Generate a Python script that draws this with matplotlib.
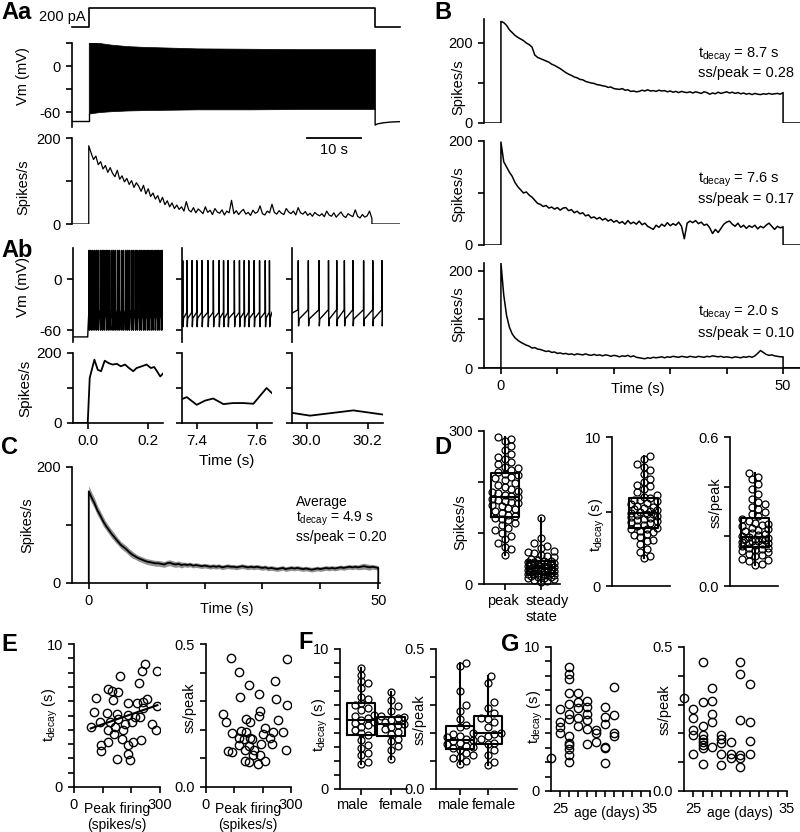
import numpy as np
import matplotlib
matplotlib.use("Agg")
import matplotlib.pyplot as plt

plt.rcParams.update({
    "font.family": ["Liberation Sans", "DejaVu Sans"],
    "font.size": 10.5,
    "mathtext.fontset": "custom",
    "mathtext.rm": "Liberation Sans",
    "mathtext.it": "Liberation Sans:italic",
    "mathtext.bf": "Liberation Sans:bold",
    "axes.linewidth": 1.2,
    "axes.facecolor": "none",
    "xtick.major.size": 4.5,
    "ytick.major.size": 4.5,
    "xtick.major.width": 1.2,
    "ytick.major.width": 1.2,
    "xtick.labelsize": 10.5,
    "ytick.labelsize": 10.5,
    "lines.linewidth": 1.1,
})

# ---------------- data ----------------
# Aa: current step (pA), Vm envelope (mV), firing rate (spikes/s)
aa_step_t = [-3.1, 0, 0, 53, 53, 57.6]
aa_step_pa = [0, 0, 200, 200, 0, 0]
aa_rest = -72
aa_env_t = [0, 1, 2, 4, 7, 10, 15, 20, 30, 40, 53]
aa_env_hi = [35, 31, 30, 28, 26, 25, 24, 23, 22.5, 22, 22]
aa_env_lo = [-62, -61, -60, -59, -58, -57.5, -57, -56.5, -56.5, -56, -56]
aa_post_t = [53, 53.4, 54.5, 56, 57.6]
aa_post_mv = [-77, -75.5, -74, -73, -72.5]
aa_rate_end = 52.4
aa_rate = [182, 165, 150, 158, 138, 145, 128, 136, 120, 131,
           118, 110, 125, 104, 112, 98, 106, 92, 101, 85,
           96, 88, 76, 90, 70, 82, 64, 72, 58, 66,
           50, 62, 45, 54, 40, 49, 36, 44, 34, 40,
           30, 52, 33, 28, 38, 26, 35, 30, 24, 40,
           27, 32, 22, 36, 28, 25, 33, 21, 30, 26,
           55, 24, 31, 22, 29, 34, 23, 27, 20, 32,
           25, 28, 42, 24, 21, 30, 26, 46, 27, 23,
           31, 25, 22, 36, 28, 24, 30, 21, 38, 26,
           23, 29, 20, 25, 18, 27, 22, 19, 24, 17,
           30, 21, 18, 26, 16, 22, 28, 19, 15, 24,
           20, 17, 33, 18, 14, 22, 16, 19, 30, 13]

# Ab: spike times (s) in three windows, and binned rates
ab1_spikes = [0.004, 0.010, 0.016, 0.022, 0.028, 0.034, 0.041, 0.047, 0.053, 0.060,
              0.066, 0.072, 0.079, 0.085, 0.091, 0.098, 0.104, 0.111, 0.117, 0.124,
              0.130, 0.136, 0.143, 0.149, 0.156, 0.162, 0.169, 0.175, 0.182, 0.188,
              0.195, 0.201, 0.208, 0.214, 0.221, 0.228, 0.234, 0.241, 0.247]
ab2_spikes = [7.353, 7.367, 7.384, 7.400, 7.417, 7.437, 7.455, 7.474, 7.489, 7.504,
              7.525, 7.542, 7.558, 7.573, 7.591, 7.609, 7.628, 7.642]
ab3_spikes = [29.972, 30.005, 30.040, 30.071, 30.098, 30.123, 30.151, 30.186, 30.216, 30.246]
ab1_rate_t = [-0.05, 0.0, 0.0066, 0.022, 0.033, 0.044, 0.056, 0.069, 0.082, 0.096, 0.109,
              0.123, 0.136, 0.150, 0.161, 0.178, 0.194, 0.208, 0.219, 0.228, 0.239, 0.250]
ab1_rate = [0, 0, 129, 181, 152, 148, 178, 171, 167, 169, 162,
            167, 157, 148, 157, 162, 167, 157, 160, 148, 133, 143]
ab2_rate_t = [7.353, 7.367, 7.400, 7.428, 7.455, 7.489, 7.522, 7.555, 7.589, 7.633, 7.650]
ab2_rate = [69, 74, 52, 64, 70, 54, 57, 57, 55, 100, 86]
ab3_rate_t = [29.952, 30.011, 30.153, 30.251]
ab3_rate = [29, 21, 36, 24]

# B: three example cells, rate sampled every 0.5 s over the 50 s step
b1_rate = [254, 251, 244, 233, 226, 219, 214, 210, 206, 200,
           196, 190, 170, 164, 161, 158, 155, 152, 147, 144,
           140, 136, 131, 126, 122, 119, 115, 113, 109, 108,
           104, 102, 100, 99, 96, 95, 93, 92, 89, 90,
           86, 85, 84, 86, 82, 83, 79, 80, 78, 79,
           82, 80, 83, 80, 81, 79, 82, 80, 81, 78,
           80, 77, 79, 76, 79, 77, 76, 78, 75, 78,
           76, 74, 78, 76, 72, 75, 73, 77, 74, 76,
           78, 75, 77, 74, 76, 73, 75, 72, 74, 71,
           74, 72, 71, 73, 72, 74, 72, 73, 74, 72, 76]
b2_rate = [198, 160, 150, 140, 132, 120, 112, 106, 100, 102,
           96, 92, 86, 80, 78, 74, 76, 71, 73, 69,
           72, 67, 71, 72, 66, 68, 62, 65, 60, 62,
           56, 58, 52, 54, 50, 53, 48, 51, 46, 49,
           44, 47, 42, 45, 40, 47, 41, 44, 40, 46,
           39, 42, 36, 33, 30, 38, 34, 40, 36, 43,
           37, 41, 38, 44, 36, 12, 42, 46, 43, 47,
           41, 44, 38, 40, 33, 22, 30, 24, 32, 40,
           44, 46, 40, 36, 42, 34, 38, 32, 37, 34,
           38, 31, 36, 33, 38, 42, 36, 30, 36, 33, 35]
b3_rate = [216, 150, 108, 84, 70, 62, 57, 53, 50, 47,
           45, 41, 42, 39, 38, 36, 34, 35, 32, 33,
           30, 31, 29, 30, 28, 29, 27, 29, 28, 27,
           29, 27, 26, 28, 26, 27, 25, 27, 26, 24,
           26, 25, 23, 25, 24, 26, 23, 25, 22, 21,
           20, 19, 21, 20, 22, 21, 22, 23, 21, 23,
           22, 24, 23, 22, 24, 23, 22, 24, 23, 22,
           24, 23, 22, 24, 23, 25, 24, 23, 24, 22,
           23, 22, 21, 23, 22, 21, 23, 22, 24, 22,
           25, 30, 36, 32, 28, 26, 27, 25, 24, 23, 23]
b_notes = [("8.7", "0.28"), ("7.6", "0.17"), ("2.0", "0.10")]

# C: average rate and SEM, every 0.5 s
c_mean = [158, 147, 137, 125, 116, 106, 98, 91, 84, 78,
          72, 66, 62, 58, 53, 49, 46, 43, 41, 39,
          37, 36, 35, 34, 34, 33, 32, 34, 35, 33,
          32, 33, 31, 32, 31, 32, 30, 31, 30, 29,
          30, 29, 28, 29, 28, 29, 27, 28, 29, 28,
          28, 27, 28, 29, 28, 27, 28, 27, 28, 27,
          26, 27, 25, 26, 25, 24, 25, 26, 24, 25,
          26, 25, 26, 25, 24, 25, 24, 23, 24, 25,
          24, 25, 26, 25, 26, 25, 26, 27, 26, 27,
          28, 27, 28, 27, 28, 29, 28, 27, 28, 27, 26]
c_sem = [10, 9, 9, 8, 8, 8, 7, 7, 7, 7,
         6, 6, 6, 6, 6, 6, 5, 5, 5, 5,
         5, 5, 5, 5, 5, 5, 5, 5, 5, 5,
         5, 5, 5, 4, 4, 4, 4, 4, 4, 4,
         4, 4, 4, 4, 4, 4, 4, 4, 4, 4,
         4, 4, 4, 4, 4, 4, 4, 4, 4, 4,
         4, 4, 4, 4, 4, 4, 4, 4, 4, 4,
         4, 4, 4, 4, 4, 4, 4, 4, 4, 4,
         4, 4, 4, 4, 4, 4, 4, 4, 4, 4,
         4, 4, 4, 4, 5, 5, 5, 5, 4, 4, 4]

# D: population summary
d_peak = [57, 68, 72, 80, 88, 95, 100, 105, 110, 115, 120, 125, 128, 130, 133, 136,
          140, 143, 147, 150, 152, 155, 158, 160, 163, 165, 167, 170, 172, 175, 178,
          180, 183, 186, 190, 195, 198, 203, 207, 210, 213, 216, 220, 224, 227, 230,
          235, 240, 245, 250, 255, 262, 270, 280, 285, 288]
d_steady = [4, 6, 8, 10, 11, 12, 13, 14, 15, 16, 17, 18, 19, 20, 20, 21, 22, 23, 24,
            25, 26, 27, 27, 28, 29, 30, 30, 31, 32, 33, 34, 35, 36, 37, 38, 39, 40,
            41, 42, 43, 44, 45, 46, 48, 50, 52, 55, 57, 60, 62, 65, 70, 75, 80, 90, 129]
d_tdecay = [1.9, 2.0, 2.3, 2.5, 2.8, 3.0, 3.1, 3.3, 3.4, 3.5, 3.6, 3.7, 3.8, 3.85,
            3.9, 4.0, 4.1, 4.2, 4.3, 4.35, 4.4, 4.5, 4.55, 4.6, 4.7, 4.75, 4.8, 4.85,
            4.9, 5.0, 5.05, 5.1, 5.2, 5.25, 5.3, 5.4, 5.5, 5.6, 5.7, 5.75, 5.8, 5.9,
            6.0, 6.1, 6.3, 6.5, 6.7, 6.8, 7.0, 7.2, 7.5, 7.8, 8.0, 8.2, 8.5, 8.7]
d_sspeak = [0.085, 0.09, 0.10, 0.105, 0.11, 0.12, 0.125, 0.13, 0.135, 0.14, 0.145,
            0.15, 0.152, 0.155, 0.16, 0.165, 0.17, 0.172, 0.175, 0.178, 0.18, 0.183,
            0.186, 0.188, 0.19, 0.19, 0.193, 0.196, 0.2, 0.205, 0.21, 0.215, 0.22,
            0.225, 0.23, 0.235, 0.24, 0.245, 0.25, 0.255, 0.26, 0.27, 0.28, 0.29,
            0.3, 0.31, 0.32, 0.33, 0.34, 0.35, 0.37, 0.39, 0.41, 0.43, 0.44, 0.455]

# E: correlations with peak firing
e1_peak = [58, 69, 78, 89, 95, 95, 115, 119, 118, 118, 125, 135, 133, 138, 144, 150,
           150, 152, 153, 159, 167, 171, 179, 187, 188, 190, 187, 196, 205, 202, 213,
           219, 227, 233, 231, 237, 240, 242, 248, 254, 271, 286, 291, 288]
e1_tdecay = [4.21, 5.26, 6.19, 4.56, 2.92, 2.50, 5.14, 3.15, 3.97, 6.82, 4.56, 6.07,
             6.73, 3.74, 4.21, 5.07, 1.99, 6.66, 4.79, 7.76, 3.39, 3.97, 4.44, 2.34,
             5.84, 5.02, 2.97, 1.87, 3.15, 4.56, 4.91, 5.84, 7.24, 3.27, 4.91, 8.11,
             5.49, 5.96, 8.60, 6.12, 4.44, 3.97, 5.65, 8.11]
e2_peak = [87, 115, 150, 286, 244, 120, 187, 247, 286, 190, 188, 59, 71, 140, 154,
           253, 93, 124, 142, 209, 200, 238, 272, 115, 135, 162, 227, 232, 195, 118,
           150, 76, 92, 138, 168, 165, 191, 283, 138, 150, 185, 209, 156]
e2_sspeak = [0.450, 0.403, 0.357, 0.447, 0.371, 0.313, 0.326, 0.308, 0.287, 0.266,
             0.247, 0.255, 0.227, 0.238, 0.229, 0.236, 0.188, 0.197, 0.191, 0.206,
             0.185, 0.192, 0.194, 0.171, 0.167, 0.167, 0.171, 0.152, 0.151, 0.148,
             0.144, 0.127, 0.121, 0.130, 0.130, 0.113, 0.112, 0.130, 0.090, 0.087,
             0.081, 0.090, 0.171]

# F: by sex
f_tdecay_male = [1.77, 1.96, 2.43, 2.55, 2.91, 3.15, 3.5, 3.87, 3.99, 4.22, 4.46, 4.58,
                 4.7, 4.82, 4.94, 5.1, 5.18, 5.3, 5.66, 5.8, 6.0, 6.13, 6.42, 6.6, 7.2,
                 7.57, 7.68, 8.16, 8.64]
f_tdecay_female = [2.12, 2.8, 3.1, 3.4, 3.58, 3.9, 4.1, 4.3, 4.45, 4.58, 4.65, 4.8,
                   4.95, 5.1, 5.13, 5.25, 5.6, 5.9, 6.35, 6.9]
f_ss_male = [0.09, 0.1, 0.11, 0.115, 0.12, 0.13, 0.14, 0.145, 0.15, 0.155, 0.16, 0.165,
             0.17, 0.175, 0.18, 0.185, 0.19, 0.195, 0.2, 0.22, 0.23, 0.25, 0.28, 0.3,
             0.35, 0.44, 0.45]
f_ss_female = [0.084, 0.095, 0.12, 0.14, 0.16, 0.165, 0.18, 0.19, 0.196, 0.2, 0.22,
               0.24, 0.25, 0.255, 0.27, 0.29, 0.31, 0.38, 0.402]
sex_labels = ["male", "female"]

# G: by age
g1_age = [24, 25, 25, 25, 25, 26, 26, 26, 26, 26, 26, 26, 26, 26, 26, 26, 26, 26,
          27, 27, 27, 27, 27, 28, 28, 28, 28, 28, 28, 29, 29, 29, 30, 30, 30, 30, 30,
          30, 31, 31, 31, 31]
g1_tdecay = [2.26, 5.66, 4.80, 4.41, 4.04, 8.61, 8.15, 7.81, 6.81, 6.07, 5.38, 4.99,
             3.83, 3.35, 3.19, 2.89, 2.49, 1.99, 6.81, 6.19, 5.73, 5.08, 4.50, 6.24,
             5.80, 5.38, 4.92, 4.34, 3.23, 4.23, 4.04, 3.42, 5.80, 5.15, 4.64, 3.07,
             2.96, 1.92, 7.23, 5.27, 4.00, 3.81]
g2_age = [24, 25, 25, 25, 25, 25, 26, 26, 26, 26, 26, 26, 26, 26, 26, 27, 27, 27, 27,
          27, 28, 28, 28, 28, 28, 29, 29, 29, 30, 30, 30, 30, 30, 30, 31, 31, 31, 31]
g2_sspeak = [0.324, 0.286, 0.255, 0.211, 0.194, 0.130, 0.448, 0.309, 0.226, 0.194,
             0.182, 0.171, 0.159, 0.148, 0.094, 0.356, 0.312, 0.267, 0.240, 0.154,
             0.194, 0.182, 0.165, 0.130, 0.090, 0.171, 0.130, 0.115, 0.448, 0.405,
             0.248, 0.125, 0.113, 0.084, 0.371, 0.238, 0.174, 0.130]

TDEC = r"t$_{\mathrm{decay}}$"

# ---------------- layout helpers (pixel boxes on an 800x832 canvas) ----------------
W, H = 800, 832
fig = plt.figure(figsize=(W / 100, H / 100), dpi=100)


def add_ax(x0, y0, x1, y1, bottom=True):
    ax = fig.add_axes([x0 / W, 1 - y1 / H, (x1 - x0) / W, (y1 - y0) / H])
    ax.spines["top"].set_visible(False)
    ax.spines["right"].set_visible(False)
    if not bottom:
        ax.spines["bottom"].set_visible(False)
        ax.set_xticks([])
    return ax


def ftext(px, py, s, **kw):
    kw.setdefault("ha", "center")
    kw.setdefault("va", "center")
    fig.text(px / W, 1 - py / H, s, **kw)


def panel(px, py, s):
    fig.text(px / W, 1 - py / H, s, ha="left", va="top", fontsize=17, fontweight="bold")


def ylab(px, py, s, size=10.5):
    ftext(px, py, s, rotation=90, fontsize=size)


def yticks(ax, ticks, labels):
    ax.set_yticks(ticks)
    ax.set_yticklabels(labels)


def px_scale(ax):
    bb = ax.get_position()
    x0, x1 = ax.get_xlim()
    y0, y1 = ax.get_ylim()
    return bb.width * W / (x1 - x0), bb.height * H / (y1 - y0)


def swarm_offsets(vals, py_per_unit, diam=6.5, max_half=13.0):
    ys = np.asarray(vals, float) * py_per_unit
    cand = [0.0]
    k = 1
    while k * diam / 2 <= max_half:
        cand += [k * diam / 2, -k * diam / 2]
        k += 1
    px_, py_ = [], []
    offs = np.zeros(len(ys))
    for i in np.argsort(ys):
        best, best_d = 0.0, -1.0
        for c in cand:
            d = np.min(np.hypot(np.array(px_) - c, np.array(py_) - ys[i])) if px_ else np.inf
            if d >= diam:
                best = c
                break
            if d > best_d:
                best, best_d = c, d
        offs[i] = best
        px_.append(best)
        py_.append(ys[i])
    return offs


def box_swarm(ax, groups, positions, width, ms=5.0):
    sx, sy = px_scale(ax)
    lp = dict(color="k", lw=1.5)
    ax.boxplot(groups, positions=positions, widths=width, whis=(0, 100),
               showfliers=False, showcaps=False, manage_ticks=False,
               boxprops=lp, whiskerprops=lp, medianprops=lp)
    for vals, pos in zip(groups, positions):
        offs = swarm_offsets(vals, sy)
        ax.plot(pos + offs / sx, vals, "o", mfc="none", mec="k", ms=ms, mew=0.9,
                zorder=3, clip_on=False)


def vm_trace(t0, t1, v0, spikes, peak, trough, reset, thr):
    t, v = [t0], [v0]
    for s in spikes:
        t += [s, s + 0.0005, s + 0.0015, s + 0.003]
        v += [thr, peak, trough, reset]
    t.append(t1)
    v.append(thr)
    return t, v


# ---------------- Aa ----------------
AA_X = (-3.1, 57.6)
panel(1, 1, "Aa")
ax = add_ax(72, 8, 400, 27)
ax.plot(aa_step_t, aa_step_pa, color="k", lw=1.2, clip_on=False)
ax.set_xlim(AA_X)
ax.set_ylim(0, 200)
ax.axis("off")
ax.text(-0.6, 100, "200 pA", ha="right", va="center", fontsize=10.5)

ax = add_ax(72, 43, 400, 127, bottom=False)
ax.plot([AA_X[0], 0, 0], [aa_rest, aa_rest, aa_env_lo[0]], color="k", lw=1)
ax.fill_between(aa_env_t, aa_env_lo, aa_env_hi, color="k", lw=0.5)
ax.plot([aa_env_t[-1]] + aa_post_t, [aa_env_lo[-1]] + aa_post_mv, color="k", lw=1)
ax.set_xlim(AA_X)
ax.set_ylim(-79.5, 30)
yticks(ax, [-60, -30, 0, 30], ["-60", "", "0", ""])
ylab(23, 76, "Vm (mV)")

ax = add_ax(72, 138, 400, 224, bottom=False)
t = np.linspace(0, aa_rate_end, len(aa_rate))
ax.plot(np.r_[AA_X[0], 0, t, aa_rate_end, AA_X[1]], np.r_[0, 0, aa_rate, 0, 0],
        color="k", lw=0.9)
ax.plot([40.4, 50.4], [200, 200], color="k", lw=1.3, clip_on=False)
ax.text(45.4, 172, "10 s", ha="center", va="center", fontsize=10.5)
ax.set_xlim(AA_X)
ax.set_ylim(0, 200)
yticks(ax, [0, 100, 200], ["0", "", "200"])
ylab(23, 187, "Spikes/s")

# ---------------- Ab ----------------
panel(1, 239, "Ab")
VM_Y = (-74, 36.8)
ab_x = [(72.7, 163, (-0.0495, 0.248)), (182, 272, (7.351, 7.651)), (292, 383, (29.952, 30.250))]

t1, v1 = vm_trace(0.001, 0.248, -58, ab1_spikes, 34, -60, -47, -36)
t2, v2 = vm_trace(7.351, 7.651, -45, ab2_spikes, 22, -56, -46, -39)
t3, v3 = vm_trace(29.952, 30.250, -40, ab3_spikes, 22, -55, -47, -36)
vm_sets = [([-0.0495, 0.0] + t1, [-68, -68] + v1), (t2, v2), (t3, v3)]
rate_sets = [(ab1_rate_t, ab1_rate), (ab2_rate_t, ab2_rate), (ab3_rate_t, ab3_rate)]
xt_sets = [([0.0, 0.2], ["0.0", "0.2"]), ([7.4, 7.6], ["7.4", "7.6"]),
           ([30.0, 30.2], ["30.0", "30.2"])]

for i, (x0, x1, xl) in enumerate(ab_x):
    ax = add_ax(x0, 248, x1, 342, bottom=False)
    ax.plot(*vm_sets[i], color="k", lw=1.0)
    ax.set_xlim(xl)
    ax.set_ylim(VM_Y)
    yticks(ax, [-60, 0], ["-60", "0"] if i == 0 else ["", ""])
    ax.tick_params(labelsize=11)

    ax = add_ax(x0, 353, x1, 423)
    ax.plot(*rate_sets[i], color="k", lw=1.3)
    ax.set_xlim(xl)
    ax.set_ylim(0, 200)
    yticks(ax, [0, 100, 200], ["0", "", "200"] if i == 0 else ["", "", ""])
    ax.set_xticks(xt_sets[i][0])
    ax.set_xticklabels(xt_sets[i][1])
    ax.tick_params(labelsize=11)

ylab(23, 287, "Vm (mV)", 11)
ylab(25, 388, "Spikes/s", 11)
ftext(227, 461, "Time (s)", fontsize=11)

# ---------------- B ----------------
panel(434, 1, "B")
B_X = (-3.0, 53.0)
tb = np.linspace(0, 50, len(b1_rate))
b_boxes = [(19, 123, 260), (141, 245, 200), (263, 368, 216)]
b_lab_y = [87, 194, 314]
b_note_y = [(55, 73), (180, 199), (313, 333)]
for i, (rate, (y0, y1, ytop)) in enumerate(zip([b1_rate, b2_rate, b3_rate], b_boxes)):
    ax = add_ax(484, y0, 800, y1, bottom=(i == 2))
    ax.plot(np.r_[B_X[0], 0, tb, 50, B_X[1]], np.r_[0, 0, rate, 0, 0], color="k", lw=1.1)
    ax.set_xlim(B_X)
    ax.set_ylim(0, ytop)
    yticks(ax, [0, 100, 200], ["0", "", "200"])
    if i == 2:
        ax.set_xticks([0, 10, 20, 30, 40, 50])
        ax.set_xticklabels(["0", "", "", "", "", "50"])
    ylab(458, b_lab_y[i], "Spikes/s")
    td, ss = b_notes[i]
    ftext(698, b_note_y[i][0], TDEC + " = " + td + " s", ha="left", fontsize=10.5)
    ftext(698, b_note_y[i][1], "ss/peak = " + ss, ha="left", fontsize=10.5)
ftext(638, 389, "Time (s)")

# ---------------- C ----------------
panel(1, 436, "C")
ax = add_ax(72, 467, 380, 583)
tc = np.linspace(0, 50, len(c_mean))
cm = np.array(c_mean, float)
cs = np.array(c_sem, float)
ax.fill_between(tc, cm - cs, cm + cs, color="#8f8f8f", lw=0)
ax.plot(np.r_[0, tc, 50], np.r_[0, cm, 0], color="k", lw=1.3)
ax.set_xlim(-2.9, 50.3)
ax.set_ylim(0, 200)
yticks(ax, [0, 100, 200], ["0", "", "200"])
ax.set_xticks([0, 10, 20, 30, 40, 50])
ax.set_xticklabels(["0", "", "", "", "", "50"])
ylab(27, 525, "Spikes/s")
ftext(227, 609, "Time (s)")
ftext(296, 502, "Average", ha="left", fontsize=10)
ftext(296, 519, TDEC + " = 4.9 s", ha="left", fontsize=10)
ftext(296, 537, "ss/peak = 0.20", ha="left", fontsize=10)

# ---------------- D ----------------
panel(434, 436, "D")
ax = add_ax(484, 431, 560, 584)
ax.set_xlim(0.417, 2.53)
ax.set_ylim(0, 300)
box_swarm(ax, [d_peak, d_steady], [1, 2], 0.8)
yticks(ax, [0, 100, 200, 300], ["0", "", "", "300"])
ax.set_xticks([1, 2])
ax.set_xticklabels(["", ""])
ftext(503, 601, "peak")
ftext(547, 601, "steady")
ftext(541, 617, "state")
ylab(460, 522, "Spikes/s")

ax = add_ax(612, 437, 670, 586, bottom=True)
ax.set_xlim(0.12, 1.73)
ax.set_ylim(0, 10)
box_swarm(ax, [d_tdecay], [1], 0.8)
yticks(ax, [0, 5, 10], ["0", "", "10"])
ax.set_xticks([])
ylab(597, 525, TDEC + " (s)")

ax = add_ax(730, 437, 778, 586, bottom=True)
ax.set_xlim(0.3, 1.64)
ax.set_ylim(0, 0.6)
box_swarm(ax, [d_sspeak], [1], 0.8)
yticks(ax, [0, 0.2, 0.4, 0.6], ["0.0", "", "", "0.6"])
ax.set_xticks([])
ylab(716, 503, "ss/peak")

# ---------------- E ----------------
panel(1, 633, "E")
ax = add_ax(74, 644, 160, 787)
ax.plot(e1_peak, e1_tdecay, "o", mfc="none", mec="k", ms=6, mew=1.0)
slope, icpt = np.polyfit(e1_peak, e1_tdecay, 1)
xf = np.array([min(e1_peak), max(e1_peak)])
ax.plot(xf, slope * xf + icpt, color="k", lw=1.5)
ax.set_xlim(0, 300)
ax.set_ylim(0, 10)
yticks(ax, range(11), ["0"] + [""] * 9 + ["10"])
ax.set_xticks([0, 100, 200, 300])
ax.set_xticklabels(["0", "", "", "300"])
ylab(50, 715, TDEC + " (s)")
ftext(117, 817, "Peak firing\n(spikes/s)", linespacing=1.1, fontsize=10)

ax = add_ax(206, 644, 291, 787)
ax.plot(e2_peak, e2_sspeak, "o", mfc="none", mec="k", ms=6, mew=1.0)
ax.set_xlim(0, 300)
ax.set_ylim(0, 0.5)
yticks(ax, [0, 0.1, 0.2, 0.3, 0.4, 0.5], ["0.0", "", "", "", "", "0.5"])
ax.set_xticks([0, 100, 200, 300])
ax.set_xticklabels(["0", "", "", "300"])
ylab(190, 708, "ss/peak")
ftext(248, 817, "Peak firing\n(spikes/s)", linespacing=1.1, fontsize=10)

# ---------------- F ----------------
panel(298, 631, "F")
ax = add_ax(340, 649, 407, 789)
ax.set_xlim(0.3, 2.53)
ax.set_ylim(0, 10)
box_swarm(ax, [f_tdecay_male, f_tdecay_female], [1, 2], 0.93)
yticks(ax, range(11), ["0"] + [""] * 9 + ["10"])
ax.set_xticks([1, 2])
ax.set_xticklabels(["", ""])
ftext(352, 805, sex_labels[0])
ftext(401, 805, sex_labels[1])
ylab(320, 725, TDEC + " (s)")

ax = add_ax(436, 649, 517, 789)
ax.set_xlim(0.143, 3.04)
ax.set_ylim(0, 0.5)
box_swarm(ax, [f_ss_male, f_ss_female], [1, 2], 1.0)
yticks(ax, [0, 0.1, 0.2, 0.3, 0.4, 0.5], ["0.0", "", "", "", "", "0.5"])
ax.set_xticks([1, 2])
ax.set_xticklabels(["", ""])
ftext(453, 805, sex_labels[0])
ftext(494, 805, sex_labels[1])
ylab(420, 720, "ss/peak")

# ---------------- G ----------------
panel(501, 633, "G")
ax = add_ax(551, 647, 650, 791)
ax.plot(g1_age, g1_tdecay, "o", mfc="none", mec="k", ms=6, mew=1.0, clip_on=False)
ax.set_xlim(24, 35)
ax.set_ylim(0, 10)
yticks(ax, range(11), ["0"] + [""] * 9 + ["10"])
ax.set_xticks(range(25, 36))
ax.set_xticklabels(["25"] + [""] * 9 + ["35"])
ylab(535, 717, TDEC + " (s)")
ftext(607, 813, "age (days)", fontsize=10)

ax = add_ax(684, 647, 787, 791)
ax.plot(g2_age, g2_sspeak, "o", mfc="none", mec="k", ms=6, mew=1.0, clip_on=False)
ax.set_xlim(24, 35)
ax.set_ylim(0, 0.5)
yticks(ax, [0, 0.1, 0.2, 0.3, 0.4, 0.5], ["0.0", "", "", "", "", "0.5"])
ax.set_xticks(range(25, 36))
ax.set_xticklabels(["25"] + [""] * 9 + ["35"])
ylab(665, 710, "ss/peak")
ftext(740, 813, "age (days)", fontsize=10)

fig.savefig("out.png", dpi=100)
